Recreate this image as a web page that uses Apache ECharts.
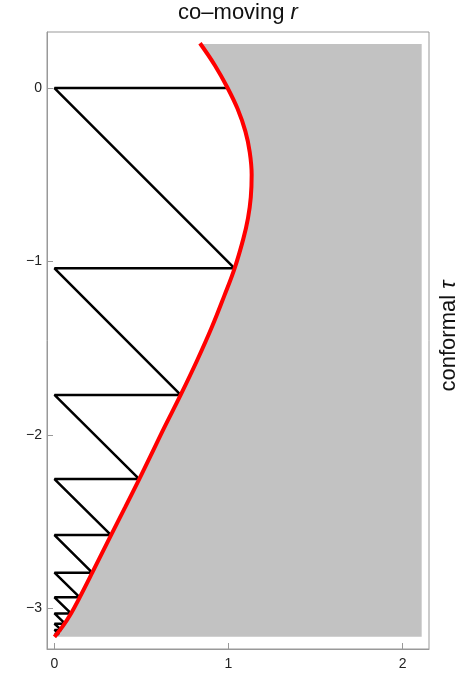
<!DOCTYPE html>
<html>
<head>
<meta charset="utf-8">
<script src="https://cdn.jsdelivr.net/npm/echarts@6/dist/echarts.min.js"></script>
<style>
  html, body { margin: 0; padding: 0; background: #fff; }
  #chart { width: 460px; height: 697px; }
</style>
</head>
<body>
<div id="chart"></div>
<script>
// mirror trajectory (co-moving r vs conformal tau)
const curveR   = [0.836, 0.922, 0.995, 1.052, 1.097, 1.122, 1.133, 1.128, 1.112, 1.085, 1.035, 0.975, 0.905, 0.82, 0.725, 0.63, 0.55, 0.487, 0.405, 0.325, 0.217, 0.145, 0.095, 0.05, 0];
const curveTau = [0.258, 0.13, 0, -0.12, -0.25, -0.37, -0.5, -0.63, -0.75, -0.87, -1.04, -1.2, -1.377, -1.57, -1.77, -1.96, -2.126, -2.255, -2.42, -2.578, -2.795, -2.937, -3.03, -3.10, -3.165];

// points where the light ray hits the mirror
const bounceR   = [0.995, 1.035, 0.725, 0.487, 0.325, 0.217, 0.145, 0.095, 0.062, 0.040, 0.026];
const bounceTau = [0, -1.04, -1.77, -2.255, -2.578, -2.795, -2.937, -3.03, -3.09, -3.125, -3.148];

// shaded region beyond the mirror
const shadeRight = 2.11;
const shadeTop = 0.254;
const shadeBottom = -3.165;

const xTicks = [0, 1, 2];
const yTicks = [0, -1, -2, -3];

const curveData = curveR.map((r, i) => [r, curveTau[i]]);

// zigzag: horizontal back to r=0, then a 45 degree ray to the next bounce
const rayData = [];
for (let i = 0; i < bounceR.length; i++) {
  rayData.push([bounceR[i], bounceTau[i]]);
  rayData.push([0, bounceTau[i]]);
}

const shadeData = [[curveR[0] + 0.004, shadeTop]].concat(curveData.slice(1))
  .concat([[shadeRight, shadeBottom], [shadeRight, shadeTop]]);

const fontFam = '"Liberation Sans", Arial, sans-serif';

const chart = echarts.init(document.getElementById('chart'));
chart.setOption({
  animation: false,
  textStyle: { fontFamily: fontFam },
  grid: {
    left: 47, right: 31, top: 32, bottom: 48,
    show: true, borderColor: '#999', borderWidth: 1
  },
  graphic: [
    {
      type: 'text', x: 238, y: 13,
      style: {
        text: 'co\u2013moving {i|r}',
        font: '22px ' + fontFam, fill: '#111',
        align: 'center', verticalAlign: 'middle',
        rich: { i: { fontStyle: 'italic', fontSize: 22, fontFamily: fontFam } }
      }
    },
    {
      type: 'text', x: 449, y: 336, rotation: Math.PI / 2,
      style: {
        text: 'conformal {i|\u03c4}', font: '22px ' + fontFam, fill: '#111',
        align: 'center', verticalAlign: 'middle',
        rich: { i: { fontStyle: 'italic', fontSize: 22, fontFamily: fontFam } }
      }
    }
  ],
  xAxis: {
    type: 'value', min: -0.043, max: 2.152,
    splitLine: { show: false },
    axisLine: { show: true, onZero: false, lineStyle: { color: '#999' } },
    axisTick: { show: true, inside: true, length: 6, customValues: xTicks, lineStyle: { color: '#999' } },
    axisLabel: { customValues: xTicks, color: '#222', fontSize: 14, margin: 8 }
  },
  yAxis: {
    type: 'value', min: -3.235, max: 0.323,
    splitLine: { show: false },
    axisLine: { show: true, onZero: false, lineStyle: { color: '#999' } },
    axisTick: { show: true, inside: true, length: 6, customValues: yTicks, lineStyle: { color: '#999' } },
    axisLabel: {
      customValues: yTicks, color: '#222', fontSize: 14, margin: 5,
      formatter: v => (v < 0 ? '\u2212' + Math.abs(v) : String(v))
    }
  },
  series: [
    {
      type: 'custom',
      silent: true,
      data: [0],
      renderItem: (params, api) => ({
        type: 'polygon',
        shape: { points: shadeData.map(p => api.coord(p)), smooth: 0 },
        style: { fill: '#c2c2c2' }
      }),
      z: 1
    },
    {
      type: 'line',
      data: rayData,
      showSymbol: false,
      lineStyle: { color: '#000', width: 2.5 },
      z: 2
    },
    {
      type: 'line',
      data: curveData,
      showSymbol: false,
      smooth: 0.4,
      lineStyle: { color: '#ff0000', width: 4 },
      z: 3
    }
  ]
});
</script>
</body>
</html>
